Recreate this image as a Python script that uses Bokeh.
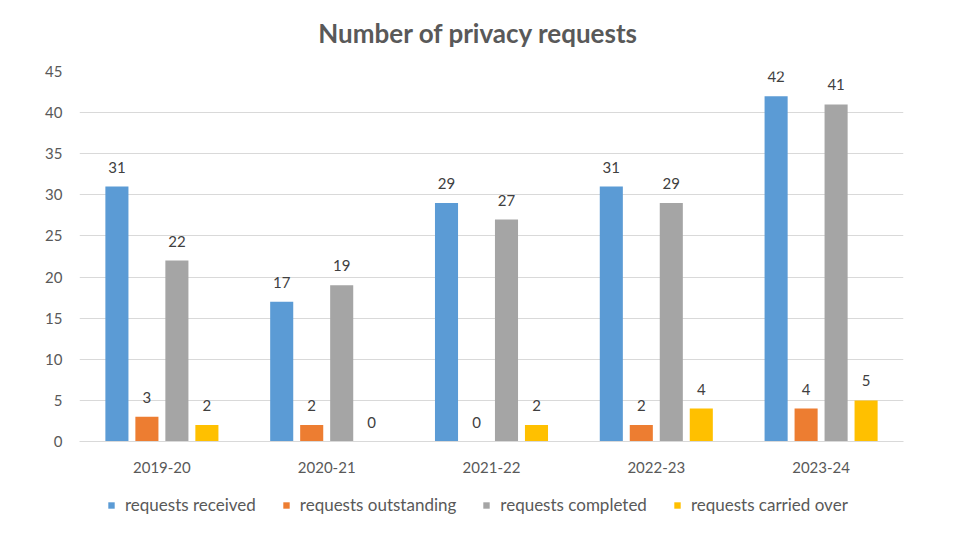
from bokeh.plotting import figure
from bokeh.layouts import column
from bokeh.models import ColumnDataSource, FactorRange, FixedTicker, Legend, LegendItem, Label
from bokeh.transform import dodge
from bokeh.core.properties import value
from bokeh.embed import file_html
from bokeh.resources import INLINE

title_text = "Number of privacy requests"
years = ["2019-20", "2020-21", "2021-22", "2022-23", "2023-24"]
received = [31, 17, 29, 31, 42]
outstanding = [3, 2, 0, 2, 4]
completed = [22, 19, 27, 29, 41]
carried_over = [2, 0, 2, 4, 5]

series_names = ["requests received", "requests outstanding", "requests completed", "requests carried over"]
series_keys = ["received", "outstanding", "completed", "carried"]
series_colors = ["#5B9BD5", "#ED7D31", "#A5A5A5", "#FFC000"]
offsets = [-0.273, -0.091, 0.091, 0.273]
y_ticks = [0, 5, 10, 15, 20, 25, 30, 35, 40, 45]

FONT = "Lato"
src = ColumnDataSource(dict(years=years, received=received, outstanding=outstanding,
                            completed=completed, carried=carried_over,
                            received_t=[str(v) for v in received],
                            outstanding_t=[str(v) for v in outstanding],
                            completed_t=[str(v) for v in completed],
                            carried_t=[str(v) for v in carried_over]))


def strip(h):
    f = figure(width=954, height=h, output_backend="svg", toolbar_location=None,
               x_range=(0, 1), y_range=(0, 1),
               x_axis_location=None, y_axis_location=None,
               min_border_left=79, min_border_right=51, min_border_top=0, min_border_bottom=0)
    f.outline_line_color = None
    f.xgrid.grid_line_color = None
    f.ygrid.grid_line_color = None
    return f


# title strip
tt = strip(62)
tt.add_layout(Label(x=399, y=29.5, x_units="screen", y_units="screen", text=title_text,
                    text_align="center", text_baseline="middle",
                    text_font=FONT, text_font_size="26px", text_font_style="bold",
                    text_color="#595959"))

p = figure(x_range=FactorRange(*years), y_range=(0, 45), width=954, height=418,
           output_backend="svg", toolbar_location=None,
           min_border_left=79, min_border_right=51, min_border_top=9, min_border_bottom=39)
p.outline_line_color = None
p.x_range.range_padding = 0

for key, color, off in zip(series_keys, series_colors, offsets):
    p.vbar(x=dodge("years", off, range=p.x_range), top=key, width=0.14, source=src,
           fill_color=color, line_color=None)
    p.text(x=dodge("years", off, range=p.x_range), y=key, text=key + "_t", source=src,
           text_align="center", text_baseline="bottom", y_offset=-14,
           text_font=value(FONT), text_font_size="15px", text_color="#404040")

p.yaxis.ticker = FixedTicker(ticks=y_ticks)
p.yaxis.axis_line_color = None
p.yaxis.major_tick_line_color = None
p.yaxis.minor_tick_line_color = None
p.yaxis.major_tick_out = 0
p.yaxis.major_label_standoff = 17
p.yaxis.major_label_text_font = FONT
p.yaxis.major_label_text_font_size = "15px"
p.yaxis.major_label_text_color = "#595959"

p.xaxis.axis_line_color = "#D9D9D9"
p.xaxis.major_tick_line_color = None
p.xaxis.minor_tick_line_color = None
p.xaxis.major_tick_out = 0
p.xaxis.major_label_standoff = 20
p.xaxis.major_label_text_font = FONT
p.xaxis.major_label_text_font_size = "15px"
p.xaxis.major_label_text_color = "#595959"

p.xgrid.grid_line_color = None
p.ygrid.grid_line_color = "#D9D9D9"
p.ygrid.ticker = FixedTicker(ticks=y_ticks)

# legend strip below the chart (its frame is aligned with the chart frame)
lg = strip(71)
items = []
for name, color in zip(series_names, series_colors):
    r = lg.rect(x=[-10], y=[-10], width=1, height=1, fill_color=color, line_color=None)
    items.append(LegendItem(label=name, renderers=[r]))
legend = Legend(items=items, orientation="horizontal", location=(28, 36),
                glyph_width=8, glyph_height=8, label_standoff=10, spacing=26,
                label_text_font=FONT, label_text_font_size="17px", label_text_color="#595959",
                border_line_color=None, background_fill_alpha=0, margin=0, padding=4)
lg.add_layout(legend, "center")

layout = column(tt, p, lg, spacing=0)
open("out.html", "w").write(file_html(layout, INLINE))
